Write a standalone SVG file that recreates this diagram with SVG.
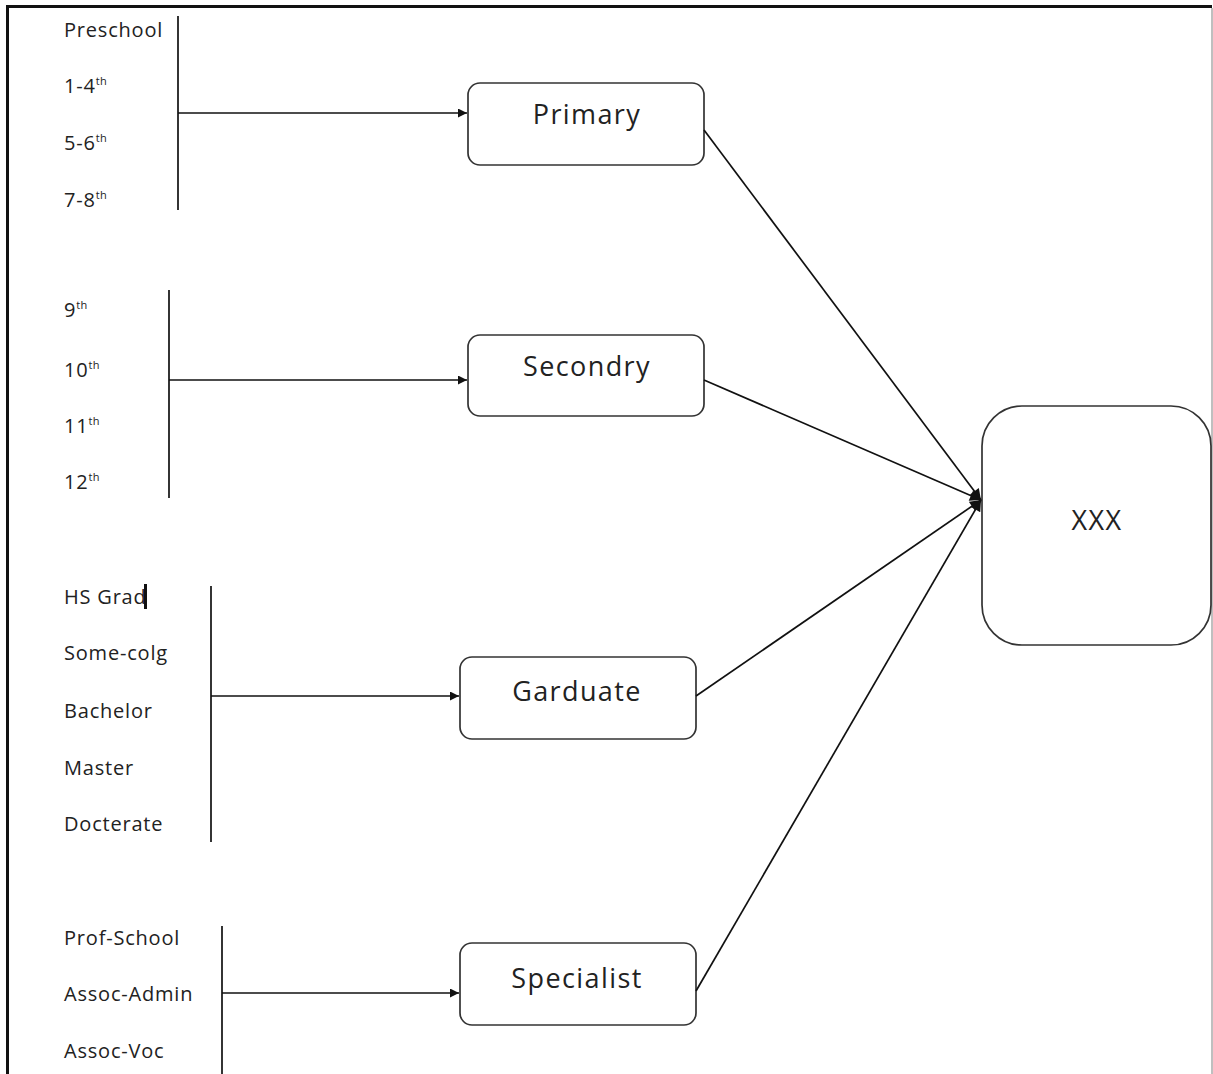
<svg xmlns="http://www.w3.org/2000/svg" width="1213" height="1074" viewBox="0 0 1213 1074">
  <style>
    .lbl { font-family: "Open Sans", "Noto Sans", sans-serif; font-size: 20px; fill: #222; letter-spacing: 0.8px; }
    .sup { font-size: 11px; letter-spacing: 0.4px; }
    .box { fill: #fff; stroke: #333; stroke-width: 1.7; }
    .title { font-family: "Open Sans", "Noto Sans", sans-serif; font-size: 27px; fill: #222; text-anchor: middle; letter-spacing: 1.4px; }
    .line { stroke: #111; stroke-width: 1.7; fill: none; }
  </style>
  <defs>
    <marker id="arrow" viewBox="0 0 10 10" refX="10" refY="5" markerWidth="10" markerHeight="9" orient="auto" markerUnits="userSpaceOnUse">
      <path d="M0,0 L10,5 L0,10 z" fill="#111"/>
    </marker>
    <marker id="arrowBig" viewBox="0 0 10 10" refX="10" refY="5" markerWidth="12" markerHeight="11" orient="auto" markerUnits="userSpaceOnUse">
      <path d="M0,0 L10,5 L0,10 z" fill="#111"/>
    </marker>
  </defs>

  <rect width="1213" height="1074" fill="#fff"/>

  <!-- page frame -->
  <g id="frame">
    <line x1="6" y1="6.5" x2="1212" y2="6.5" stroke="#111" stroke-width="3"/>
    <line x1="7.5" y1="5" x2="7.5" y2="1074" stroke="#111" stroke-width="3"/>
    <line x1="1212" y1="8" x2="1212" y2="1074" stroke="#aaa" stroke-width="1.5"/>
  </g>

  <!-- grade lists -->
  <g id="list-primary">
    <text class="lbl" x="64" y="37">Preschool</text>
    <text class="lbl" x="64" y="93">1-4<tspan class="sup" dy="-8">th</tspan></text>
    <text class="lbl" x="64" y="150">5-6<tspan class="sup" dy="-8">th</tspan></text>
    <text class="lbl" x="64" y="207">7-8<tspan class="sup" dy="-8">th</tspan></text>
  </g>
  <g id="list-secondary">
    <text class="lbl" x="64" y="317">9<tspan class="sup" dy="-8">th</tspan></text>
    <text class="lbl" x="64" y="377">10<tspan class="sup" dy="-8">th</tspan></text>
    <text class="lbl" x="64" y="433">11<tspan class="sup" dy="-8">th</tspan></text>
    <text class="lbl" x="64" y="489">12<tspan class="sup" dy="-8">th</tspan></text>
  </g>
  <g id="list-graduate">
    <text class="lbl" x="64" y="604">HS Grad</text>
    <rect x="144" y="584" width="3" height="25" fill="#111"/>
    <text class="lbl" x="64" y="660">Some-colg</text>
    <text class="lbl" x="64" y="718">Bachelor</text>
    <text class="lbl" x="64" y="775">Master</text>
    <text class="lbl" x="64" y="831">Docterate</text>
  </g>
  <g id="list-specialist">
    <text class="lbl" x="64" y="945">Prof-School</text>
    <text class="lbl" x="64" y="1001">Assoc-Admin</text>
    <text class="lbl" x="64" y="1058">Assoc-Voc</text>
  </g>

  <!-- nodes -->
  <g id="primary">
    <rect class="box" x="468" y="83" width="236" height="82" rx="12"/>
    <text class="title" x="587" y="124">Primary</text>
  </g>
  <g id="secondry">
    <rect class="box" x="468" y="335" width="236" height="81" rx="12"/>
    <text class="title" x="587" y="376">Secondry</text>
  </g>
  <g id="garduate">
    <rect class="box" x="460" y="657" width="236" height="82" rx="12"/>
    <text class="title" x="577" y="701">Garduate</text>
  </g>
  <g id="specialist">
    <rect class="box" x="460" y="943" width="236" height="82" rx="12"/>
    <text class="title" x="577" y="988">Specialist</text>
  </g>
  <g id="xxx">
    <rect class="box" x="982" y="406" width="229" height="239" rx="40"/>
    <text class="title" x="1097" y="530">XXX</text>
  </g>

  <!-- connectors -->
  <g id="connectors">
    <line class="line" x1="178" y1="16" x2="178" y2="210"/>
    <line class="line" x1="178" y1="113" x2="467" y2="113" marker-end="url(#arrow)"/>

    <line class="line" x1="169" y1="290" x2="169" y2="498"/>
    <line class="line" x1="169" y1="380" x2="467" y2="380" marker-end="url(#arrow)"/>

    <line class="line" x1="211" y1="586" x2="211" y2="842"/>
    <line class="line" x1="211" y1="696" x2="459" y2="696" marker-end="url(#arrow)"/>

    <line class="line" x1="222" y1="926" x2="222" y2="1074"/>
    <line class="line" x1="222" y1="993" x2="459" y2="993" marker-end="url(#arrow)"/>

    <line class="line" x1="704" y1="130" x2="981" y2="500" marker-end="url(#arrowBig)"/>
    <line class="line" x1="704" y1="380" x2="981" y2="500" marker-end="url(#arrowBig)"/>
    <line class="line" x1="696" y1="696" x2="981" y2="500" marker-end="url(#arrowBig)"/>
    <line class="line" x1="696" y1="991" x2="981" y2="500" marker-end="url(#arrowBig)"/>
  </g>
</svg>
